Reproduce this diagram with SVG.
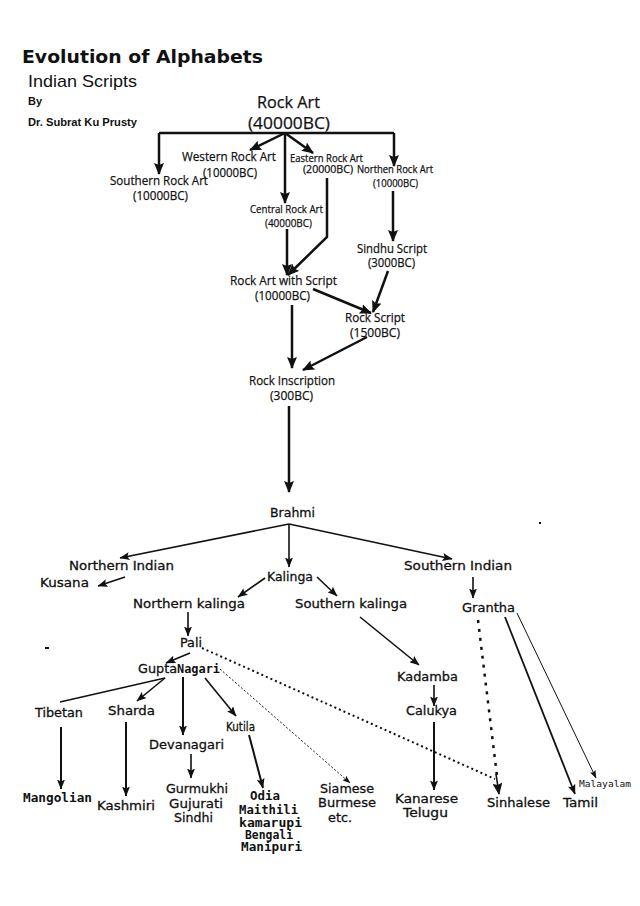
<svg xmlns="http://www.w3.org/2000/svg" width="640" height="906" viewBox="0 0 640 906">
<style>
text{fill:#111;lengthAdjust:spacingAndGlyphs}
.t{font-family:"DejaVu Sans",Verdana,sans-serif;font-weight:bold;font-size:18px}
.h{font-family:"Liberation Sans",Arial,sans-serif}
.r{font-family:"Open Sans","Noto Sans",sans-serif;stroke:#111;stroke-width:0.25}
.v{font-family:"DejaVu Sans",Verdana,sans-serif;font-size:12.5px;stroke:#111;stroke-width:0.3}
.m{font-family:"DejaVu Sans Mono","Liberation Mono",monospace;font-weight:bold;font-size:12px}
.s{font-family:"DejaVu Sans Mono","Liberation Mono",monospace;font-size:9px}
.k{fill:none;stroke:#111;stroke-width:2.5}
.n{fill:none;stroke:#111;stroke-width:1.6}
.w{fill:none;stroke:#111;stroke-width:2}
</style>
<defs>
<marker id="A" viewBox="0 0 12 10" refX="11" refY="5" markerWidth="12" markerHeight="10" orient="auto" markerUnits="userSpaceOnUse"><path d="M0,0 L12,5 L0,10 L2,5 z" fill="#111"/></marker>
<marker id="B" viewBox="0 0 10 8" refX="9.5" refY="4" markerWidth="10" markerHeight="8" orient="auto" markerUnits="userSpaceOnUse"><path d="M0,0 L10,4 L0,8 L2,4 z" fill="#111"/></marker>
<marker id="C" viewBox="0 0 8 6" refX="7.5" refY="3" markerWidth="8" markerHeight="6" orient="auto" markerUnits="userSpaceOnUse"><path d="M0,0 L8,3 L0,6 L1.5,3 z" fill="#111"/></marker>
</defs>
<rect width="640" height="906" fill="#fff"/>
<g id="header">
<text class="t" x="22" y="63" textLength="241" lengthAdjust="spacingAndGlyphs">Evolution of Alphabets</text>
<text class="h" x="28" y="87" font-size="17" textLength="109" lengthAdjust="spacingAndGlyphs">Indian Scripts</text>
<text class="h" x="28" y="105" font-size="11" font-weight="bold" textLength="14" lengthAdjust="spacingAndGlyphs">By</text>
<text class="h" x="28" y="126" font-size="11" font-weight="bold" textLength="109" lengthAdjust="spacingAndGlyphs">Dr. Subrat Ku Prusty</text>
</g>
<g id="connectors">
<path class="k" d="M159,133 H394"/>
<path class="k" d="M159,133 V174" marker-end="url(#A)"/>
<path class="k" d="M394,133 V166" marker-end="url(#A)"/>
<path class="k" d="M285,133 L250,150" marker-end="url(#A)"/>
<path class="k" d="M285,133 L313,153" marker-end="url(#A)"/>
<path class="k" d="M285,133 V203" marker-end="url(#A)"/>
<path class="k" d="M327,178 V237 L288,275" marker-end="url(#A)"/>
<path class="k" d="M287,229 V275" marker-end="url(#A)"/>
<path class="k" d="M393,191 V241" marker-end="url(#A)"/>
<path class="k" d="M313,289 L371,313" marker-end="url(#A)"/>
<path class="k" d="M388,271 L373,312" marker-end="url(#A)"/>
<path class="k" d="M292,305 V368" marker-end="url(#A)"/>
<path class="k" d="M367,337 L303,370" marker-end="url(#A)"/>
<path class="k" d="M289,406 V492" marker-end="url(#A)"/>
<path class="n" d="M289,524 L120,558" marker-end="url(#B)"/>
<path class="n" d="M289,524 V567" marker-end="url(#B)"/>
<path class="n" d="M289,524 L452,559" marker-end="url(#B)"/>
<path class="n" d="M125,577 L98,586" marker-end="url(#B)"/>
<path class="n" d="M265,578 L238,597" marker-end="url(#B)"/>
<path class="n" d="M317,577 L337,596" marker-end="url(#B)"/>
<path class="n" d="M473,577 V598" marker-end="url(#B)"/>
<path class="n" d="M188,612 V636" marker-end="url(#B)"/>
<path class="n" d="M190,653 L166,663" marker-end="url(#B)"/>
<path class="n" d="M165,678 L60,702"/>
<path class="n" d="M165,678 L137,701" marker-end="url(#B)"/>
<path class="w" d="M183,677 V735" marker-end="url(#B)"/>
<path class="n" d="M205,678 L236,716" marker-end="url(#B)"/>
<path class="w" d="M61,727 V789" marker-end="url(#B)"/>
<path class="w" d="M126,722 V796" marker-end="url(#B)"/>
<path class="n" d="M191,754 V778" marker-end="url(#B)"/>
<path class="w" d="M249,735 L263,788" marker-end="url(#B)"/>
<path class="n" d="M360,617 L419,665" marker-end="url(#B)"/>
<path class="n" d="M434,685 V706" marker-end="url(#B)"/>
<path class="w" d="M434,722 V790" marker-end="url(#B)"/>
<path class="w" d="M202,648 L495,779" stroke-dasharray="2 3"/>
<path fill="none" stroke="#111" stroke-width="1" stroke-dasharray="2 2" d="M220,669 L350,783" marker-end="url(#C)"/>
<path class="k" d="M478,620 L497,776" stroke-dasharray="3 6"/>
<path class="n" d="M496,774 L499,794" marker-end="url(#A)"/>
<path fill="none" stroke="#111" stroke-width="1.8" d="M505,617 L575,794" marker-end="url(#B)"/>
<path fill="none" stroke="#111" stroke-width="1" d="M517,613 L596,778" marker-end="url(#C)"/>
</g>
<g id="rock-art"><text class="r" x="257" y="108" font-size="17" textLength="63" lengthAdjust="spacingAndGlyphs">Rock Art</text><text class="r" x="248" y="129" font-size="17" textLength="82" lengthAdjust="spacingAndGlyphs">(40000BC)</text></g>
<g id="western"><text class="r" x="182" y="161" font-size="13" textLength="94" lengthAdjust="spacingAndGlyphs">Western Rock Art</text><text class="r" x="203" y="177" font-size="13" textLength="54" lengthAdjust="spacingAndGlyphs">(10000BC)</text></g>
<g id="southern"><text class="r" x="110" y="185" font-size="13" textLength="98" lengthAdjust="spacingAndGlyphs">Southern Rock Art</text><text class="r" x="133" y="200" font-size="13" textLength="55" lengthAdjust="spacingAndGlyphs">(10000BC)</text></g>
<g id="eastern"><text class="r" x="290" y="162" font-size="10" textLength="73" lengthAdjust="spacingAndGlyphs">Eastern Rock Art</text><text class="r" x="303" y="173" font-size="10" textLength="50" lengthAdjust="spacingAndGlyphs">(20000BC)</text></g>
<g id="northen"><text class="r" x="357" y="173" font-size="10" textLength="76" lengthAdjust="spacingAndGlyphs">Northen Rock Art</text><text class="r" x="373" y="187" font-size="10" textLength="45" lengthAdjust="spacingAndGlyphs">(10000BC)</text></g>
<g id="central"><text class="r" x="250" y="213" font-size="11" textLength="73" lengthAdjust="spacingAndGlyphs">Central Rock Art</text><text class="r" x="265" y="227" font-size="11" textLength="47" lengthAdjust="spacingAndGlyphs">(40000BC)</text></g>
<g id="sindhu"><text class="r" x="357" y="253" font-size="13" textLength="70" lengthAdjust="spacingAndGlyphs">Sindhu Script</text><text class="r" x="368" y="267" font-size="13" textLength="47" lengthAdjust="spacingAndGlyphs">(3000BC)</text></g>
<g id="rock-art-script"><text class="r" x="230" y="285" font-size="13" textLength="107" lengthAdjust="spacingAndGlyphs">Rock Art with Script</text><text class="r" x="255" y="300" font-size="13" textLength="55" lengthAdjust="spacingAndGlyphs">(10000BC)</text></g>
<g id="rock-script"><text class="r" x="345" y="322" font-size="13" textLength="60" lengthAdjust="spacingAndGlyphs">Rock Script</text><text class="r" x="350" y="337" font-size="13" textLength="50" lengthAdjust="spacingAndGlyphs">(1500BC)</text></g>
<g id="rock-inscription"><text class="r" x="249" y="385" font-size="13" textLength="86" lengthAdjust="spacingAndGlyphs">Rock Inscription</text><text class="r" x="270" y="400" font-size="13" textLength="43" lengthAdjust="spacingAndGlyphs">(300BC)</text></g>
<g id="brahmi"><text class="v" x="270" y="517" textLength="45" lengthAdjust="spacingAndGlyphs">Brahmi</text></g>
<g id="northern-indian"><text class="v" x="69" y="570" textLength="105" lengthAdjust="spacingAndGlyphs">Northern Indian</text></g>
<g id="kusana"><text class="v" x="40" y="587" textLength="49" lengthAdjust="spacingAndGlyphs">Kusana</text></g>
<g id="kalinga"><text class="v" x="267" y="581" textLength="46" lengthAdjust="spacingAndGlyphs">Kalinga</text></g>
<g id="southern-indian"><text class="v" x="404" y="570" textLength="108" lengthAdjust="spacingAndGlyphs">Southern Indian</text></g>
<g id="northern-kalinga"><text class="v" x="133" y="608" textLength="112" lengthAdjust="spacingAndGlyphs">Northern kalinga</text></g>
<g id="southern-kalinga"><text class="v" x="295" y="608" textLength="112" lengthAdjust="spacingAndGlyphs">Southern kalinga</text></g>
<g id="grantha"><text class="v" x="462" y="612" textLength="53" lengthAdjust="spacingAndGlyphs">Grantha</text></g>
<g id="pali"><text class="v" x="180" y="647" textLength="22" lengthAdjust="spacingAndGlyphs">Pali</text></g>
<g id="gupta-nagari"><text class="v" x="138" y="673" textLength="39" lengthAdjust="spacingAndGlyphs">Gupta</text><text class="m" x="177" y="673" textLength="43" lengthAdjust="spacingAndGlyphs">Nagari</text></g>
<g id="tibetan"><text class="v" x="35" y="717" textLength="48" lengthAdjust="spacingAndGlyphs">Tibetan</text></g>
<g id="sharda"><text class="v" x="108" y="715" textLength="47" lengthAdjust="spacingAndGlyphs">Sharda</text></g>
<g id="kutila"><text class="v" x="226" y="731" font-size="11.5" textLength="29" lengthAdjust="spacingAndGlyphs">Kutila</text></g>
<g id="devanagari"><text class="v" x="149" y="749" textLength="75" lengthAdjust="spacingAndGlyphs">Devanagari</text></g>
<g id="kadamba"><text class="v" x="397" y="681" textLength="61" lengthAdjust="spacingAndGlyphs">Kadamba</text></g>
<g id="calukya"><text class="v" x="406" y="715" textLength="51" lengthAdjust="spacingAndGlyphs">Calukya</text></g>
<g id="mangolian"><text class="m" x="23" y="802" textLength="69" lengthAdjust="spacingAndGlyphs">Mangolian</text></g>
<g id="kashmiri"><text class="v" x="97" y="810" textLength="58" lengthAdjust="spacingAndGlyphs">Kashmiri</text></g>
<g id="gurmukhi"><text class="v" x="166" y="793" textLength="62" lengthAdjust="spacingAndGlyphs">Gurmukhi</text><text class="v" x="169" y="808" textLength="54" lengthAdjust="spacingAndGlyphs">Gujurati</text><text class="v" x="174" y="822" textLength="39" lengthAdjust="spacingAndGlyphs">Sindhi</text></g>
<g id="odia"><text class="m" x="250" y="800" textLength="30" lengthAdjust="spacingAndGlyphs">Odia</text><text class="m" x="239" y="814" textLength="59" lengthAdjust="spacingAndGlyphs">Maithili</text><text class="m" x="239" y="827" textLength="63" lengthAdjust="spacingAndGlyphs">kamarupi</text><text class="m" x="245" y="839" textLength="48" lengthAdjust="spacingAndGlyphs">Bengali</text><text class="m" x="241" y="851" textLength="61" lengthAdjust="spacingAndGlyphs">Manipuri</text></g>
<g id="siamese"><text class="v" x="320" y="793" textLength="54" lengthAdjust="spacingAndGlyphs">Siamese</text><text class="v" x="318" y="807" textLength="58" lengthAdjust="spacingAndGlyphs">Burmese</text><text class="v" x="328" y="822" textLength="24" lengthAdjust="spacingAndGlyphs">etc.</text></g>
<g id="kanarese"><text class="v" x="395" y="803" textLength="63" lengthAdjust="spacingAndGlyphs">Kanarese</text><text class="v" x="403" y="817" textLength="45" lengthAdjust="spacingAndGlyphs">Telugu</text></g>
<g id="sinhalese"><text class="v" x="487" y="807" textLength="63" lengthAdjust="spacingAndGlyphs">Sinhalese</text></g>
<g id="tamil"><text class="v" x="563" y="807" textLength="35" lengthAdjust="spacingAndGlyphs">Tamil</text></g>
<g id="malayalam"><text class="s" x="579" y="787" textLength="52" lengthAdjust="spacingAndGlyphs">Malayalam</text></g>
<rect x="45" y="647" width="4" height="2" fill="#111"/>
<rect x="539" y="522" width="2" height="2" fill="#111"/>
</svg>
